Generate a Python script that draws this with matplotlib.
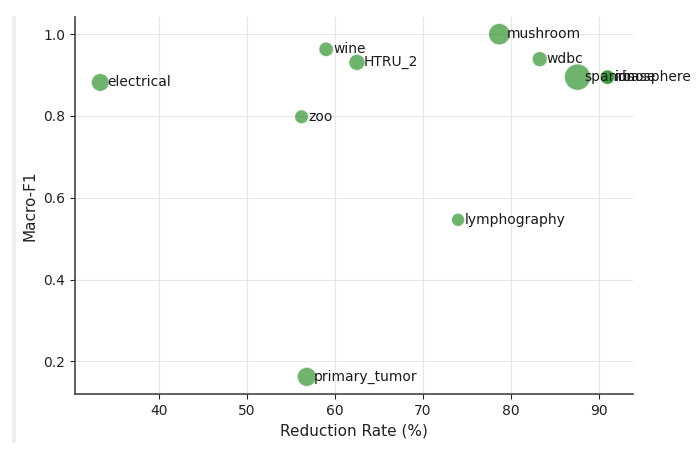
import matplotlib
matplotlib.use("Agg")
import matplotlib.pyplot as plt
from matplotlib.patches import Rectangle

datasets = ["electrical", "zoo", "wine", "HTRU_2", "mushroom", "wdbc",
            "spambase", "iris", "ionosphere", "lymphography", "primary_tumor"]
reduction_rate = [33.3, 56.2, 59.0, 62.5, 78.7, 83.3, 87.6, 91.0, 91.0, 74.0, 56.8]
macro_f1 = [0.882, 0.798, 0.963, 0.931, 1.0, 0.939, 0.895, 0.895, 0.895, 0.546, 0.162]
marker_size = [165, 100, 110, 135, 240, 120, 360, 110, 110, 90, 190]

fig = plt.figure(figsize=(7.0, 4.49), dpi=100)
ax = fig.add_axes([0.107, 0.1225, 0.797, 0.8395])

ax.scatter(reduction_rate, macro_f1, s=marker_size, color="forestgreen",
           alpha=0.65, edgecolors="white", linewidths=0.8, zorder=3)
for name, x, y in zip(datasets, reduction_rate, macro_f1):
    ax.text(x + 0.8, y, name, fontsize=10, va="center", ha="left",
            color="#1a1a1a", zorder=4)

ax.grid(True, color="#e6e6e6", linewidth=0.8)
ax.set_axisbelow(True)
for side in ("top", "right"):
    ax.spines[side].set_visible(False)
for side in ("left", "bottom"):
    ax.spines[side].set_color("#444444")
    ax.spines[side].set_linewidth(1.2)
ax.tick_params(colors="#222222", labelsize=10)
ax.set_xticks([40, 50, 60, 70, 80, 90])
ax.set_yticks([0.2, 0.4, 0.6, 0.8, 1.0])
ax.set_xlabel("Reduction Rate (%)", fontsize=11, color="#222222")
ax.set_ylabel("Macro-F1", fontsize=11, color="#222222")

fig.add_artist(Rectangle((12 / 700, 6 / 449), 4 / 700, 427 / 449,
                         transform=fig.transFigure, color="#efedeb", lw=0))

fig.savefig("out.png", dpi=100)
